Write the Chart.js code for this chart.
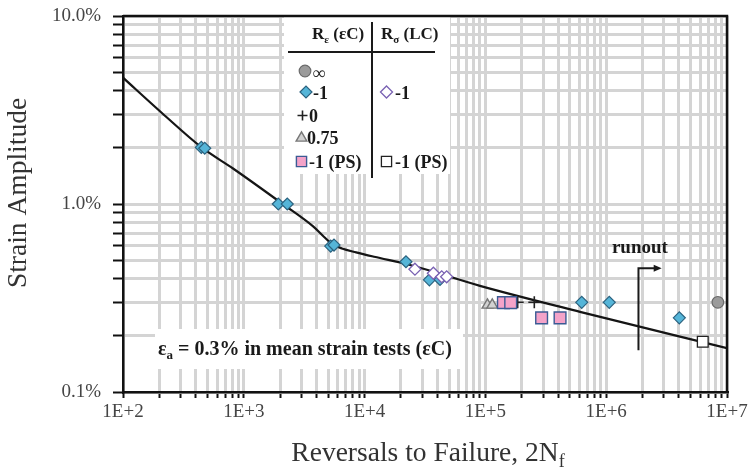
<!DOCTYPE html>
<html><head><meta charset="utf-8">
<script src="https://cdn.jsdelivr.net/npm/chart.js@4/dist/chart.umd.min.js"></script>
<style>html,body{margin:0;padding:0;background:#fff}canvas{display:block}</style>
</head><body>
<canvas id="c" width="752" height="472"></canvas>
<script>
// ---------------- data ----------------
const xDecades = [1e2, 1e3, 1e4, 1e5, 1e6, 1e7];
const xTickLabels = ['1E+2', '1E+3', '1E+4', '1E+5', '1E+6', '1E+7'];
const yDecades = [0.1, 1, 10];
const yTickLabels = ['0.1%', '1.0%', '10.0%'];
const minorSteps = [1, 2, 3, 4, 5, 6, 7, 8, 9];

// R_eps = infinity (eps-controlled)
const cInfN = [8.4e6];
const cInfAmp = [0.30];
// R_eps = -1 (eps-controlled)
const cM1N = [445, 475, 1930, 2290, 5240, 5580, 22000, 34400, 42100, 627000, 1060000, 4030000];
const cM1Amp = [2.0, 1.98, 1.0, 1.0, 0.597, 0.605, 0.493, 0.395, 0.397, 0.30, 0.30, 0.248];
// R_eps = 0
const c0N = [185000, 254000];
const c0Amp = [0.30, 0.30];
// R_eps = 0.75
const c075N = [104000, 114000];
const c075Amp = [0.29, 0.29];
// R_eps = -1 (PS)
const cPSN = [141000, 162000, 292000, 415000];
const cPSAmp = [0.299, 0.299, 0.248, 0.248];
// R_sigma = -1 (load-controlled)
const lM1N = [26100, 37100, 43500, 47800];
const lM1Amp = [0.45, 0.428, 0.41, 0.41];
// R_sigma = -1 (PS)
const lPSN = [6.3e6];
const lPSAmp = [0.185];
// fitted strain-life curve
const fitN = [100, 210, 448, 820, 2100, 3750, 4600, 5400, 6500, 8500, 12000, 23800, 90200, 607000, 1e7];
const fitAmp = [4.7, 3.05, 2.0, 1.54, 1.0, 0.76, 0.67, 0.612, 0.58, 0.553, 0.524, 0.474, 0.367, 0.267, 0.171];

// runout annotation (data coordinates)
const runoutN = [1.85e6, 2.88e6];
const runoutAmp = [0.167, 0.455];
const runoutLabelAt = [1.9e6, 0.59];

// ---------------- styles ----------------
const ST = {
  cInf: {pointStyle: 'circle', radius: 5.8, bg: '#9b9b9b', bd: '#6a6a6a', bw: 1.2},
  cM1:  {pointStyle: 'rectRot', radius: 6, bg: '#55b5d8', bd: '#2b627f', bw: 1.2},
  c0:   {pointStyle: 'cross', radius: 6, bg: '#222', bd: '#222', bw: 1.6},
  c075: {pointStyle: 'triangle', radius: 6.2, bg: '#d2d2d2', bd: '#777', bw: 1.4},
  cPS:  {pointStyle: 'rect', radius: 8.3, bg: '#f4a3c9', bd: '#3b5b94', bw: 1.4},
  lM1:  {pointStyle: 'rectRot', radius: 6, bg: '#ffffff', bd: '#7a62b3', bw: 1.3},
  lPS:  {pointStyle: 'rect', radius: 7.6, bg: '#ffffff', bd: '#222', bw: 1.3}
};

const zip = (a, b) => a.map((v, i) => ({x: v, y: b[i]}));
function ds(label, N, A, s) {
  return {label, data: zip(N, A), pointStyle: s.pointStyle, pointRadius: s.radius,
    backgroundColor: s.bg, borderColor: s.bd, borderWidth: s.bw, showLine: false, clip: false};
}

const xTickValues = [];
xDecades.slice(0, -1).forEach(d => minorSteps.forEach(m => xTickValues.push(d * m)));
xTickValues.push(xDecades[xDecades.length - 1]);
const yTickValues = [];
yDecades.slice(0, -1).forEach(d => minorSteps.forEach(m => yTickValues.push(d * m)));
yTickValues.push(yDecades[yDecades.length - 1]);

function labelFor(v, decs, labs) {
  for (let i = 0; i < decs.length; i++) if (Math.abs(v / decs[i] - 1) < 1e-9) return labs[i];
  return '';
}

// ---------------- drawing helpers ----------------
function mark(ctx, s, x, y) {
  const r = s.radius;
  ctx.save();
  ctx.beginPath();
  if (s.pointStyle === 'circle') ctx.arc(x, y, r, 0, Math.PI * 2);
  else if (s.pointStyle === 'rectRot') { ctx.moveTo(x - r, y); ctx.lineTo(x, y - r); ctx.lineTo(x + r, y); ctx.lineTo(x, y + r); ctx.closePath(); }
  else if (s.pointStyle === 'rect') { const h = r * Math.SQRT1_2; ctx.rect(x - h, y - h, 2 * h, 2 * h); }
  else if (s.pointStyle === 'triangle') { const c = Math.cos(Math.PI / 6) * r; ctx.moveTo(x, y - r); ctx.lineTo(x + c, y + r / 2); ctx.lineTo(x - c, y + r / 2); ctx.closePath(); }
  else if (s.pointStyle === 'cross') { ctx.moveTo(x - r, y); ctx.lineTo(x + r, y); ctx.moveTo(x, y - r); ctx.lineTo(x, y + r); }
  if (s.pointStyle !== 'cross') { ctx.fillStyle = s.bg; ctx.fill(); }
  ctx.strokeStyle = s.bd; ctx.lineWidth = s.bw; ctx.stroke();
  ctx.restore();
}
function runs(ctx, x, y, parts) {
  let cx = x;
  parts.forEach(p => {
    ctx.font = (p[2] ? 'bold ' : '') + p[1] + 'px "Liberation Serif"';
    ctx.fillText(p[0], cx, y + (p[3] || 0));
    cx += ctx.measureText(p[0]).width;
  });
  return cx;
}
function runsWidth(ctx, parts) {
  let w = 0;
  parts.forEach(p => { ctx.font = (p[2] ? 'bold ' : '') + p[1] + 'px "Liberation Serif"'; w += ctx.measureText(p[0]).width; });
  return w;
}

const decor = {
  id: 'decor',
  beforeDatasetsDraw(chart) {
    const ctx = chart.ctx;
    const xs = chart.scales.x, ys = chart.scales.y;
    ctx.save();
    ctx.fillStyle = '#fff';
    ctx.fillRect(284, 17, 166, 157);
    ctx.fillRect(155, 329, 308, 40);
    ctx.fillStyle = '#1a1a1a';
    ctx.textAlign = 'left';
    ctx.textBaseline = 'alphabetic';
    runs(ctx, 312, 39, [['R', 17, true], ['ε', 11, true, 4], [' (εC)', 17, true]]);
    runs(ctx, 381, 39, [['R', 17, true], ['σ', 11, true, 4], [' (LC)', 17, true]]);
    ctx.strokeStyle = '#1a1a1a'; ctx.lineWidth = 2;
    ctx.beginPath(); ctx.moveTo(288, 52); ctx.lineTo(435, 52); ctx.stroke();
    ctx.beginPath(); ctx.moveTo(372, 22); ctx.lineTo(372, 178); ctx.stroke();
    mark(ctx, ST.cInf, 305, 71);
    runs(ctx, 313, 79, [['∞', 18, true]]);
    mark(ctx, ST.cM1, 306, 92);
    runs(ctx, 313, 99, [['-1', 18, true]]);
    mark(ctx, Object.assign({}, ST.c0, {radius: 5}), 302.5, 115.5);
    runs(ctx, 309, 122, [['0', 18, true]]);
    mark(ctx, ST.c075, 301.5, 138);
    runs(ctx, 307, 144, [['0.75', 18, true]]);
    mark(ctx, Object.assign({}, ST.cPS, {radius: 7.2}), 301.5, 161.5);
    runs(ctx, 309, 168, [['-1 (PS)', 18, true]]);
    mark(ctx, ST.lM1, 386.5, 92);
    runs(ctx, 395, 99, [['-1', 18, true]]);
    mark(ctx, Object.assign({}, ST.lPS, {radius: 7.2}), 386.5, 161.5);
    runs(ctx, 395, 168, [['-1 (PS)', 18, true]]);
    runs(ctx, 158, 355, [['ε', 20, true], ['a', 13, true, 4], [' = 0.3% in mean strain tests (εC)', 20, true]]);
    const ax = xs.getPixelForValue(runoutN[0]), ax2 = xs.getPixelForValue(runoutN[1]);
    const ay1 = ys.getPixelForValue(runoutAmp[0]), ay2 = ys.getPixelForValue(runoutAmp[1]);
    ctx.lineWidth = 2;
    ctx.beginPath(); ctx.moveTo(ax, ay1); ctx.lineTo(ax, ay2); ctx.lineTo(ax2 - 6, ay2); ctx.stroke();
    ctx.beginPath(); ctx.moveTo(ax2, ay2); ctx.lineTo(ax2 - 8, ay2 - 3.5); ctx.lineTo(ax2 - 8, ay2 + 3.5); ctx.closePath(); ctx.fill();
    ctx.font = 'bold 19px "Liberation Serif"';
    ctx.textAlign = 'center';
    ctx.fillText('runout', xs.getPixelForValue(runoutLabelAt[0]), ys.getPixelForValue(runoutLabelAt[1]) + 6);
    ctx.restore();
  },
  afterDraw(chart) {
    const ctx = chart.ctx, a = chart.chartArea;
    ctx.save();
    ctx.strokeStyle = '#111'; ctx.lineWidth = 2.5;
    ctx.beginPath(); ctx.moveTo(a.left, a.top); ctx.lineTo(a.right, a.top); ctx.lineTo(a.right, a.bottom); ctx.stroke();
    ctx.fillStyle = '#333';
    ctx.textBaseline = 'alphabetic';
    const xt = [['Reversals to Failure, 2N', 27.5, false], ['f', 18, false, 6]];
    const w = runsWidth(ctx, xt);
    ctx.textAlign = 'left';
    runs(ctx, (a.left + a.right) / 2 + 3 - w / 2, 461, xt);
    ctx.translate(26, 193);
    ctx.rotate(-Math.PI / 2);
    ctx.font = '27.5px "Liberation Serif"';
    ctx.textAlign = 'center';
    ctx.fillText('Strain Amplitude', 0, 0);
    ctx.restore();
  }
};

new Chart(document.getElementById('c'), {
  type: 'scatter',
  data: {
    datasets: [
      ds('Rε = ∞', cInfN, cInfAmp, ST.cInf),
      ds('Rε = -1 (PS)', cPSN, cPSAmp, ST.cPS),
      ds('Rε = 0', c0N, c0Amp, ST.c0),
      ds('Rε = 0.75', c075N, c075Amp, ST.c075),
      ds('Rσ = -1', lM1N, lM1Amp, ST.lM1),
      ds('Rε = -1', cM1N, cM1Amp, ST.cM1),
      ds('Rσ = -1 (PS)', lPSN, lPSAmp, ST.lPS),
      {label: 'fit', data: zip(fitN, fitAmp), showLine: true, pointRadius: 0, borderColor: '#151515',
       borderWidth: 2.2, cubicInterpolationMode: 'monotone', fill: false}
    ]
  },
  options: {
    responsive: false, animation: false, devicePixelRatio: 1,
    layout: {padding: {top: 16, right: 25, left: 0, bottom: 0}},
    plugins: {legend: {display: false}, tooltip: {enabled: false}},
    scales: {
      x: {
        type: 'logarithmic', position: 'bottom', min: 100, max: 1e7,
        afterBuildTicks: s => { s.ticks = xTickValues.map(v => ({value: v})); },
        afterFit: s => { s.height = 80; s.paddingLeft = 0; s.paddingRight = 0; },
        ticks: {autoSkip: false, maxRotation: 0, minRotation: 0, padding: 3, color: '#454545',
          font: {family: 'Liberation Serif', size: 19}, callback: v => labelFor(v, xDecades, xTickLabels)},
        grid: {color: '#d4d4d4', lineWidth: 3, tickColor: '#111', tickWidth: 2, tickLength: 6},
        border: {color: '#111', width: 2.5}
      },
      y: {
        type: 'logarithmic', position: 'left', min: 0.1, max: 10,
        afterBuildTicks: s => { s.ticks = yTickValues.map(v => ({value: v})); },
        afterFit: s => { s.width = 123; s.paddingTop = 0; s.paddingBottom = 0; },
        ticks: {autoSkip: false, padding: 12, color: '#454545',
          font: {family: 'Liberation Serif', size: 19}, callback: v => labelFor(v, yDecades, yTickLabels)},
        grid: {color: '#d4d4d4', lineWidth: 3, tickColor: '#111', tickWidth: 2, tickLength: 10},
        border: {color: '#111', width: 2.5}
      }
    }
  },
  plugins: [decor]
});
</script>
</body></html>
